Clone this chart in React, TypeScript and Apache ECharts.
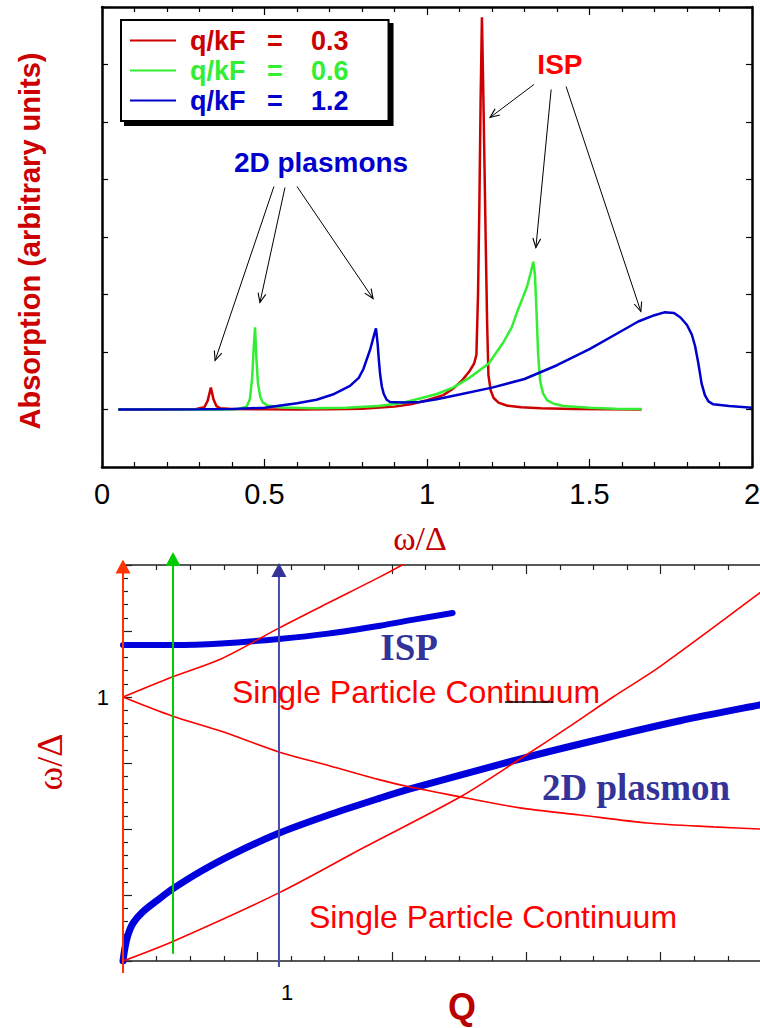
import { useEffect, useRef } from 'react';
import * as echarts from 'echarts';

type Pt = [number, number];

const SANS = '"Liberation Sans", Arial, Helvetica, sans-serif';
const SERIF = '"Liberation Serif", "Times New Roman", serif';

// ---------- absorption spectra: [ω/Δ, absorption (a.u.)] ----------
const spectrumQ = ['0.3', '0.6', '1.2'];
const spectrumNames = spectrumQ.map((q) => `q/kF = ${q}`);
const spectrumColors = ['#cc0000', '#33ee33', '#0000cc'];

const spectrum03: Pt[] = [
  [0.05, 0], [0.2, 0], [0.29, 0.01], [0.315, 0.04], [0.325, 0.15], [0.335, 0.38],
  [0.343, 0.18], [0.352, 0.06], [0.365, 0.02], [0.4, 0.01], [0.5, 0.003], [0.6, 0],
  [0.7, 0.005], [0.8, 0.015], [0.9, 0.05], [0.95, 0.09], [1.0, 0.16], [1.05, 0.25],
  [1.08, 0.36], [1.11, 0.52], [1.13, 0.66], [1.145, 0.8], [1.152, 0.95], [1.157, 2.0],
  [1.161, 3.5], [1.165, 5.4], [1.169, 6.82], [1.173, 5.6], [1.177, 4.2], [1.181, 2.8],
  [1.185, 1.5], [1.189, 0.6], [1.196, 0.33], [1.205, 0.2], [1.22, 0.12], [1.245, 0.07],
  [1.29, 0.04], [1.35, 0.02], [1.45, 0.01], [1.55, 0.005], [1.66, 0],
];

const spectrum06: Pt[] = [
  [0.05, 0], [0.38, 0], [0.42, 0.01], [0.445, 0.05], [0.455, 0.18], [0.462, 0.55],
  [0.467, 1.1], [0.471, 1.43], [0.475, 0.9], [0.48, 0.45], [0.487, 0.22], [0.495, 0.12],
  [0.51, 0.07], [0.55, 0.035], [0.65, 0.02], [0.75, 0.03], [0.85, 0.06], [0.92, 0.11],
  [0.978, 0.19], [1.03, 0.27], [1.08, 0.38], [1.13, 0.55], [1.19, 0.8], [1.234, 1.16],
  [1.26, 1.42], [1.277, 1.69], [1.295, 1.95], [1.308, 2.14], [1.32, 2.4], [1.327, 2.57],
  [1.332, 2.35], [1.337, 1.7], [1.342, 0.95], [1.348, 0.5], [1.357, 0.28], [1.37, 0.16],
  [1.39, 0.1], [1.42, 0.06], [1.5, 0.03], [1.58, 0.015], [1.66, 0.01],
];

const spectrum12: Pt[] = [
  [0.05, 0], [0.3, 0.005], [0.4, 0.01], [0.5, 0.03], [0.6, 0.11], [0.66, 0.17],
  [0.71, 0.26], [0.763, 0.41], [0.79, 0.55], [0.804, 0.7], [0.825, 1.04], [0.835, 1.25],
  [0.843, 1.41], [0.848, 1.15], [0.852, 0.85], [0.856, 0.6], [0.861, 0.4], [0.867, 0.27],
  [0.876, 0.17], [0.886, 0.13], [0.93, 0.12], [0.978, 0.13], [1.03, 0.18], [1.1, 0.26],
  [1.2, 0.38], [1.3, 0.53], [1.4, 0.77], [1.5, 1.05], [1.6, 1.37], [1.65, 1.53],
  [1.7, 1.64], [1.73, 1.69], [1.76, 1.68], [1.78, 1.6], [1.8, 1.47], [1.815, 1.3],
  [1.825, 1.1], [1.835, 0.8], [1.845, 0.45], [1.855, 0.25], [1.866, 0.14], [1.881, 0.09],
  [1.93, 0.06], [2.0, 0.03],
];

const spectra = [spectrum03, spectrum06, spectrum12];

const omegaTicks = [0, 0.5, 1, 1.5, 2];
const absorptionTicks = [-1, 0, 1, 2, 3, 4, 5, 6, 7];

// annotation arrows, [from, to] in (ω/Δ, absorption)
const plasmonArrows: [Pt, Pt][] = [
  [[0.529, 3.878], [0.348, 0.852]],
  [[0.563, 3.861], [0.486, 1.861]],
  [[0.6, 3.878], [0.834, 1.93]],
];
const ispArrows: [Pt, Pt][] = [
  [[1.329, 5.652], [1.194, 5.078]],
  [[1.382, 5.565], [1.335, 2.817]],
  [[1.428, 5.617], [1.658, 1.704]],
];
const plasmonLabelAt: Pt = [0.674, 4.296];
const ispLabelAt: Pt = [1.409, 6.0];

// ---------- dispersion: [Q, ω/Δ] ----------
const ispBranch: Pt[] = [
  [0, 1.197], [0.3, 1.197], [0.6, 1.203], [0.951, 1.22], [1.25, 1.24],
  [1.567, 1.27], [1.79, 1.295], [2.01, 1.318],
];
const plasmonBranch: Pt[] = [
  [0, 0], [0.012, 0.05], [0.03, 0.098], [0.061, 0.143], [0.122, 0.187], [0.226, 0.238],
  [0.305, 0.274], [0.47, 0.338], [0.671, 0.405], [0.953, 0.485], [1.262, 0.555],
  [1.567, 0.617], [1.75, 0.652], [2.42, 0.765], [2.787, 0.822], [3.396, 0.91],
  [3.884, 0.97], [4.1, 0.995],
];
const continuumUpper: Pt[] = [
  [0, 1], [0.3, 1.076], [0.6, 1.145], [0.95, 1.261], [1.25, 1.356], [1.567, 1.455], [1.75, 1.516],
];
const continuumMiddle: Pt[] = [
  [0, 1], [0.3, 0.928], [0.6, 0.87], [0.95, 0.792], [1.262, 0.739], [1.567, 0.686],
  [1.75, 0.659], [2.055, 0.622], [2.42, 0.58], [2.787, 0.553], [3.195, 0.523],
  [3.6, 0.508], [3.884, 0.5], [4.1, 0.497],
];
const continuumLower: Pt[] = [
  [0, 0], [0.311, 0.076], [0.95, 0.258], [1.463, 0.428], [2.055, 0.621], [2.42, 0.765],
  [2.705, 0.881], [2.988, 1.0], [3.274, 1.115], [3.884, 1.395], [4.1, 1.5],
];

// q markers drawn as vertical arrows
const markerQ = [0, 0.305, 0.951];
const markerFrom = [-0.045, 0.027, -0.023];
const markerTo = [1.494, 1.523, 1.481];
const markerLineColors = ['#ff3300', '#00cc00', '#4a4aa8'];
const markerHeadColors = ['#ff3300', '#00cc00', '#333399'];

const dispersionYTicks = [0, 0.25, 0.5, 0.75, 1, 1.25, 1.5];
const dispersionYLabelled = [1];
const qLabelled = [1];
const qTickUnits = [0, 1, 2, 3, 4, 5];
const qPerTickUnit = 134.4 / 164;

const continuumUpperLabelAt: Pt = [1.787, 1.019];
const continuumLowerLabelAt: Pt = [2.256, 0.167];
const ispBranchLabelAt: Pt = [1.744, 1.189];
const plasmonBranchLabelAt: Pt = [3.128, 0.659];
const underlineAt: [Pt, Pt] = [[2.329, 0.981], [2.622, 0.981]];

// the drawing surface is wider than the visible page so the lower
// plot can run off its right edge, as an open-ended axis
const VIEW_W = 760;
const VIEW_H = 1028;
const CHART_W = 800;

function tickAxis(extra: any) {
  return {
    type: 'value',
    splitLine: { show: false },
    minorSplitLine: { show: false },
    ...extra,
  };
}

function buildOption(): any {
  const legendRich: any = { s: { width: 9 } };
  spectrumColors.forEach((c, i) => {
    const base = { color: c, fontSize: 27, fontWeight: 'bold', fontFamily: SANS };
    legendRich['a' + i] = { ...base, width: 77 };
    legendRich['b' + i] = { ...base, width: 44 };
    legendRich['c' + i] = { ...base };
  });

  const topLine = { show: true, onZero: false, lineStyle: { color: '#000', width: 2.5 } };
  const topTick = { show: true, inside: true, length: 8, lineStyle: { color: '#000', width: 1.2 } };
  const topMinor = { show: true, splitNumber: 5, length: 5, lineStyle: { color: '#000', width: 1.2 } };

  const botLine = { show: true, onZero: false, lineStyle: { color: '#222', width: 1.5 } };
  const botTick = { show: true, inside: true, length: 9, lineStyle: { color: '#222', width: 1.2 } };
  const botMinor = { show: true, splitNumber: 4, length: 5, lineStyle: { color: '#222', width: 1.2 } };

  const omegaMin = omegaTicks[0];
  const omegaMax = omegaTicks[omegaTicks.length - 1];
  const omegaStep = omegaTicks[1] - omegaTicks[0];

  const qTickMax = qTickUnits[qTickUnits.length - 1];

  const series: any[] = [];
  spectra.forEach((d, i) => {
    series.push({
      type: 'line',
      name: spectrumNames[i],
      xAxisIndex: 0,
      yAxisIndex: 0,
      data: d,
      showSymbol: false,
      symbol: 'none',
      color: spectrumColors[i],
      lineStyle: { width: 2.5, color: spectrumColors[i] },
      z: 2 + i,
    });
  });

  const blueCurve = (data: Pt[], width: number) => ({
    type: 'line',
    xAxisIndex: 4,
    yAxisIndex: 2,
    data,
    showSymbol: false,
    symbol: 'none',
    smooth: 0.3,
    lineStyle: { width, color: '#0000dd', cap: 'round' },
    z: 2,
  });
  const redCurve = (data: Pt[]) => ({
    type: 'line',
    xAxisIndex: 4,
    yAxisIndex: 2,
    data,
    showSymbol: false,
    symbol: 'none',
    smooth: 0.3,
    lineStyle: { width: 1.6, color: '#ff0000' },
    z: 3,
  });
  series.push(blueCurve(ispBranch, 6));
  series.push(blueCurve(plasmonBranch, 7));
  series.push(redCurve(continuumUpper));
  series.push(redCurve(continuumMiddle));
  series.push(redCurve(continuumLower));

  markerQ.forEach((q, i) => {
    series.push({
      type: 'line',
      xAxisIndex: 4,
      yAxisIndex: 2,
      clip: false,
      showSymbol: true,
      showAllSymbol: true,
      symbol: 'none',
      data: [
        { value: [q, markerFrom[i]], symbol: 'none' },
        {
          value: [q, markerTo[i]],
          symbol: 'triangle',
          symbolSize: [15, 14],
          itemStyle: { color: markerHeadColors[i] },
        },
      ],
      lineStyle: { width: 2, color: markerLineColors[i] },
      itemStyle: { color: markerHeadColors[i] },
      z: 5,
    });
  });

  return {
    animation: false,
    backgroundColor: '#fff',
    grid: [
      { left: 102, top: 7, width: 650, height: 460 },
      { left: 123, top: 565, width: 672, height: 396 },
    ],
    legend: {
      orient: 'vertical',
      left: 121,
      top: 20,
      padding: [7, 40, 7, 9],
      itemGap: 3,
      itemWidth: 46,
      itemHeight: 2,
      icon: 'rect',
      selectedMode: false,
      backgroundColor: '#fff',
      borderColor: '#000',
      borderWidth: 2,
      shadowColor: '#000',
      shadowBlur: 0,
      shadowOffsetX: 4,
      shadowOffsetY: 4,
      data: spectrumNames.map((n) => ({ name: n })),
      formatter: (name: string) => {
        const i = spectrumNames.indexOf(name);
        return `{s| }{a${i}|q/kF}{b${i}|=}{c${i}|${spectrumQ[i]}}`;
      },
      textStyle: { fontSize: 27, fontWeight: 'bold', fontFamily: SANS, rich: legendRich },
    },
    xAxis: [
      tickAxis({
        gridIndex: 0,
        position: 'bottom',
        min: omegaMin,
        max: omegaMax,
        interval: omegaStep,
        axisLine: topLine,
        axisTick: topTick,
        minorTick: topMinor,
        axisLabel: {
          show: true,
          margin: 12,
          color: '#000',
          fontSize: 29,
          fontFamily: SANS,
          showMinLabel: true,
          showMaxLabel: true,
        },
      }),
      tickAxis({
        gridIndex: 0,
        position: 'top',
        min: omegaMin,
        max: omegaMax,
        interval: omegaStep,
        axisLine: topLine,
        axisTick: topTick,
        minorTick: topMinor,
        axisLabel: { show: false },
      }),
      tickAxis({
        gridIndex: 1,
        position: 'bottom',
        min: 0,
        max: qTickMax,
        interval: 1,
        axisLine: botLine,
        axisTick: botTick,
        minorTick: botMinor,
        axisLabel: { show: false },
      }),
      tickAxis({
        gridIndex: 1,
        position: 'top',
        min: 0,
        max: qTickMax,
        interval: 1,
        axisLine: botLine,
        axisTick: botTick,
        minorTick: botMinor,
        axisLabel: { show: false },
      }),
      tickAxis({
        gridIndex: 1,
        position: 'bottom',
        min: 0,
        max: qTickMax * qPerTickUnit,
        interval: 1,
        axisLine: { show: false, onZero: false },
        axisTick: { show: false },
        axisLabel: {
          show: true,
          margin: 20,
          color: '#000',
          fontSize: 22,
          fontFamily: SANS,
          formatter: (v: number) => (qLabelled.includes(v) ? String(v) : ''),
        },
      }),
    ],
    yAxis: [
      tickAxis({
        gridIndex: 0,
        position: 'left',
        min: absorptionTicks[0],
        max: absorptionTicks[absorptionTicks.length - 1],
        interval: absorptionTicks[1] - absorptionTicks[0],
        axisLine: topLine,
        axisTick: { show: true, inside: true, length: 6, lineStyle: { color: '#000', width: 1.2 } },
        axisLabel: { show: false },
      }),
      tickAxis({
        gridIndex: 0,
        position: 'right',
        min: absorptionTicks[0],
        max: absorptionTicks[absorptionTicks.length - 1],
        interval: absorptionTicks[1] - absorptionTicks[0],
        axisLine: topLine,
        axisTick: { show: true, inside: true, length: 6, lineStyle: { color: '#000', width: 1.2 } },
        axisLabel: { show: false },
      }),
      tickAxis({
        gridIndex: 1,
        position: 'left',
        min: dispersionYTicks[0],
        max: dispersionYTicks[dispersionYTicks.length - 1],
        interval: dispersionYTicks[1] - dispersionYTicks[0],
        axisLine: botLine,
        axisTick: botTick,
        minorTick: { show: true, splitNumber: 5, length: 5, lineStyle: { color: '#222', width: 1.2 } },
        axisLabel: {
          show: true,
          margin: 14,
          color: '#000',
          fontSize: 22,
          fontFamily: SANS,
          formatter: (v: number) => (dispersionYLabelled.includes(v) ? String(v) : ''),
        },
      }),
    ],
    series,
  };
}

function arrowElements(a: number[], b: number[]): any[] {
  const [x1, y1] = a;
  const [x2, y2] = b;
  const ang = Math.atan2(y2 - y1, x2 - x1);
  const L = 10;
  const spread = 0.4;
  const p1 = [x2 - L * Math.cos(ang - spread), y2 - L * Math.sin(ang - spread)];
  const p2 = [x2 - L * Math.cos(ang + spread), y2 - L * Math.sin(ang + spread)];
  return [
    { type: 'line', z: 10, shape: { x1, y1, x2, y2 }, style: { stroke: '#000', lineWidth: 1 } },
    {
      type: 'polyline',
      z: 10,
      shape: { points: [p1, [x2, y2], p2] },
      style: { stroke: '#000', fill: 'none', lineWidth: 1.1 },
    },
  ];
}

function textEl(x: number, y: number, text: string, style: any, rotation = 0): any {
  return {
    type: 'text',
    x,
    y,
    rotation,
    z: 10,
    style: { text, align: 'center', verticalAlign: 'middle', ...style },
  };
}

function buildGraphics(chart: echarts.ECharts): any[] {
  const top = (p: Pt) => chart.convertToPixel({ xAxisIndex: 0, yAxisIndex: 0 }, p) as number[];
  const bot = (p: Pt) => chart.convertToPixel({ xAxisIndex: 4, yAxisIndex: 2 }, p) as number[];
  const els: any[] = [];

  [...plasmonArrows, ...ispArrows].forEach(([a, b]) => {
    els.push(...arrowElements(top(a), top(b)));
  });

  const pl = top(plasmonLabelAt);
  els.push(textEl(pl[0], pl[1], '2D plasmons', { fill: '#0000cc', fontSize: 28, fontWeight: 'bold', fontFamily: SANS }));
  const il = top(ispLabelAt);
  els.push(textEl(il[0], il[1], 'ISP', { fill: '#ff0000', fontSize: 28, fontWeight: 'bold', fontFamily: SANS }));

  // axis titles
  els.push(
    textEl(30, 241, 'Absorption (arbitrary units)', { fill: '#cc0000', fontSize: 29, fontWeight: 'bold', fontFamily: SANS }, Math.PI / 2),
  );
  els.push(textEl(420, 538, 'ω/Δ', { fill: '#c00000', fontSize: 34, fontFamily: SERIF }));
  els.push(textEl(50, 762, 'ω/Δ', { fill: '#cc0000', fontSize: 36, fontFamily: SERIF }, Math.PI / 2));
  els.push(textEl(462, 1006, 'Q', { fill: '#bb0000', fontSize: 36, fontWeight: 'bold', fontFamily: SANS }));

  // dispersion annotations
  const cu = bot(continuumUpperLabelAt);
  els.push(textEl(cu[0], cu[1], 'Single Particle Continuum', { fill: '#ff0000', fontSize: 32, fontFamily: SANS }));
  const cl = bot(continuumLowerLabelAt);
  els.push(textEl(cl[0], cl[1], 'Single Particle Continuum', { fill: '#ff0000', fontSize: 32, fontFamily: SANS }));
  const ib = bot(ispBranchLabelAt);
  els.push(textEl(ib[0], ib[1], 'ISP', { fill: '#333399', fontSize: 37, fontWeight: 'bold', fontFamily: SERIF }));
  const pb = bot(plasmonBranchLabelAt);
  els.push(textEl(pb[0], pb[1], '2D plasmon', { fill: '#333399', fontSize: 37, fontWeight: 'bold', fontFamily: SERIF }));

  const u1 = bot(underlineAt[0]);
  const u2 = bot(underlineAt[1]);
  els.push({ type: 'line', z: 10, shape: { x1: u1[0], y1: u1[1], x2: u2[0], y2: u2[1] }, style: { stroke: '#000', lineWidth: 1.5 } });

  return els;
}

export default function App() {
  const ref = useRef<HTMLDivElement>(null);

  useEffect(() => {
    const el = ref.current;
    if (!el) return;
    const chart = echarts.init(el, undefined, { renderer: 'svg' });
    chart.setOption(buildOption());
    chart.setOption({ graphic: buildGraphics(chart) });
    return () => chart.dispose();
  }, []);

  return (
    <div
      style={{
        position: 'fixed',
        left: 0,
        top: 0,
        width: VIEW_W,
        height: VIEW_H,
        background: '#fff',
        overflow: 'hidden',
      }}
    >
      <div ref={ref} style={{ width: CHART_W, height: VIEW_H }} />
    </div>
  );
}
